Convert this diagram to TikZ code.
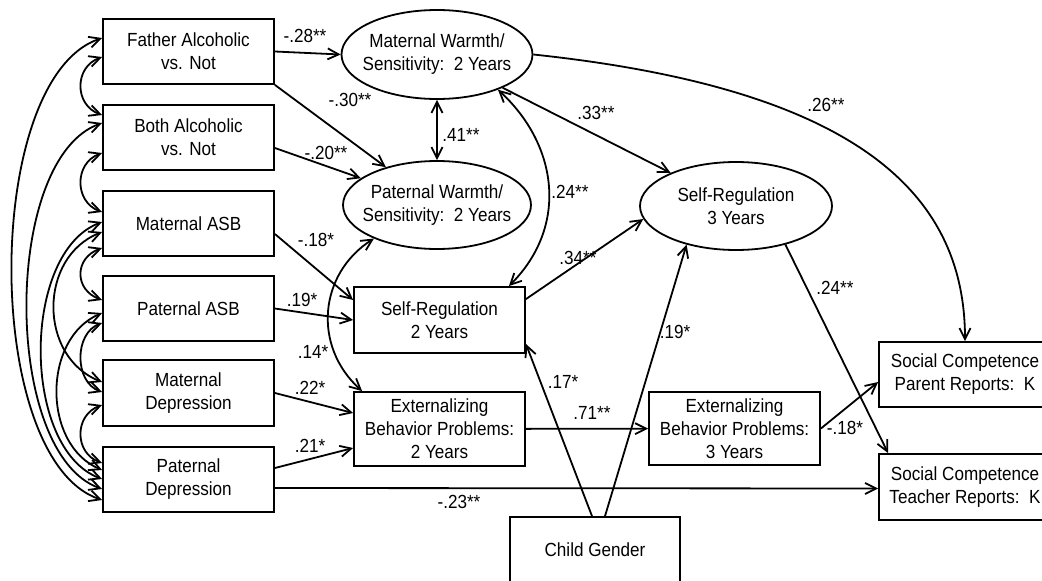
\documentclass[tikz,border=0pt]{standalone}
\usepackage{fontspec}
\setmainfont{Liberation Sans}[FakeStretch=0.9]
\usetikzlibrary{shapes.geometric,arrows.meta}

\begin{document}
\begin{tikzpicture}[x=1pt,y=-1pt,
    font=\fontsize{19}{23}\selectfont,
    line width=1.8pt,
    >={Straight Barb[length=11pt,width=11pt]},
    box/.style={draw,rectangle,align=center,inner sep=0pt,minimum width=171pt,minimum height=65pt},
    oval/.style={draw,ellipse,align=center,inner xsep=-12pt,inner ysep=0pt,minimum width=191pt,minimum height=89pt},
    coef/.style={inner sep=1pt}]
  \useasboundingbox (0,0) rectangle (1042,581);
  \clip (0,0) rectangle (1042,581);

  % exogenous variables
  \node[box] (fa) at (188.5,51.5) {Father Alcoholic\\vs. Not};
  \node[box] (ba) at (188.5,137.5) {Both Alcoholic\\vs. Not};
  \node[box] (ma) at (188.5,223.5) {Maternal ASB};
  \node[box] (pa) at (188.5,308.5) {Paternal ASB};
  \node[box,minimum height=66pt] (md) at (188.5,393) {Maternal\\Depression};
  \node[box] (pd) at (188.5,479.5) {Paternal\\Depression};

  % mediators and outcomes
  \node[oval] (mw) at (437,54.5) {Maternal Warmth/\\Sensitivity:\ \ 2 Years};
  \node[oval,minimum width=188pt,minimum height=88pt] (pw) at (437,205) {Paternal Warmth/\\Sensitivity:\ \ 2 Years};
  \node[oval,minimum width=192pt,minimum height=88pt] (sr3) at (736,206) {Self-Regulation\\3 Years};
  \node[box,minimum height=66pt] (sr2) at (439.5,320) {Self-Regulation\\2 Years};
  \node[box,minimum height=74pt] (ext2) at (439.5,429) {Externalizing\\Behavior Problems:\\2 Years};
  \node[box,minimum height=73pt] (ext3) at (734.5,428.5) {Externalizing\\Behavior Problems:\\3 Years};
  \node[box,minimum width=170pt,minimum height=66pt] (cg) at (595,550) {Child Gender};
  \node[box,minimum width=172pt] (scp) at (965,374.5) {Social Competence\\Parent Reports:\ \ K};
  \node[box,minimum width=172pt,minimum height=66pt] (sct) at (965,487) {Social Competence\\Teacher Reports:\ \ K};

  % paths
  \draw[->] (fa.east) -- (mw.west);
  \draw[->] (fa.south east) -- (pw);
  \draw[->] ([yshift=-10.5pt]ba.east) -- (pw);
  \draw[->] ([yshift=-10.5pt]ma.east) -- ([yshift=20pt]sr2.west);
  \draw[->] (pa.east) -- (sr2.west);
  \draw[->] (md.east) -- ([yshift=16pt]ext2.west);
  \draw[->] ([yshift=11.5pt]pd.east) -- ([yshift=-19pt]ext2.west);
  \draw[->] ([yshift=-8.5pt]pd.east) -- ([yshift=-1.5pt]sct.west);
  \draw[<->] (mw.south) -- (pw.north);
  \draw[<->] (mw.-30) .. controls +(60,55) and +(60,-60) .. ([xshift=-17pt]sr2.north east);
  \draw[<->] (pw.208) .. controls +(-55,35) and +(-50,-45) .. ([xshift=9pt]ext2.north west);
  \draw[->] (mw) -- (sr3);
  \draw[->] (mw.east) .. controls +(320,34) and +(0,-150) .. (scp.north);
  \draw[->] ([yshift=-13pt]sr2.north east) -- (sr3.188);
  \draw[->] (ext2) -- (ext3);
  \draw[->] ([xshift=-3pt]cg.north) -- ([yshift=10pt]sr2.south east);
  \draw[->] ([xshift=10pt]cg.north) -- (sr3.218);
  \draw[->] (sr3.-38) -- ([xshift=10pt]sct.north west);
  \draw[->] (ext3.east) -- ([yshift=-7.5pt]scp.west);

  % covariances among exogenous variables
  \draw[<->] ([yshift=-5.5pt]fa.west) .. controls +(-28,10) and +(-28,-10) .. ([yshift=22.5pt]ba.west);
  \draw[<->] ([yshift=-15.5pt]ba.west) .. controls +(-28,10) and +(-28,-10) .. ([yshift=11.5pt]ma.west);
  \draw[<->] ([yshift=-24.5pt]ma.west) .. controls +(-28,10) and +(-28,-10) .. ([yshift=8.5pt]pa.west);
  \draw[<->] ([yshift=-14.5pt]pa.west) .. controls +(-28,10) and +(-28,-10) .. ([yshift=1pt]md.west);
  \draw[<->] ([yshift=-12pt]md.west) .. controls +(-28,10) and +(-28,-10) .. ([yshift=16.5pt]pd.west);
  \draw[<->] ([yshift=13.5pt]fa.west) .. controls +(-120,40) and +(-120,-40) .. ([yshift=-20.5pt]pd.west);
  \draw[<->] ([yshift=14.5pt]ba.west) .. controls +(-100,35) and +(-100,-35) .. ([yshift=-9.5pt]pd.west);
  \draw[<->] ([yshift=1.5pt]ma.west) .. controls +(-81,30) and +(-81,-30) .. ([yshift=0.5pt]pd.west);
  \draw[<->] ([yshift=-4.5pt]pa.west) .. controls +(-60,25) and +(-60,-25) .. ([yshift=9.5pt]pd.west);
  \draw[<->] ([yshift=-8.5pt]ma.west) .. controls +(-64,25) and +(-64,-25) .. ([yshift=11pt]md.west);

  % coefficients
  \node[coef] (c-fa-mw) at (305,36) {-.28**};
  \node[coef] (c-fa-pw) at (350,100) {-.30**};
  \node[coef] (c-ba-pw) at (326,153) {-.20**};
  \node[coef] (c-ma-sr) at (316,240) {-.18*};
  \node[coef] (c-pa-sr) at (302,300) {.19*};
  \node[coef] (c-pw-ex) at (313,352) {.14*};
  \node[coef] (c-md-ex) at (310,388) {.22*};
  \node[coef] (c-pd-ex) at (310,446) {.21*};
  \node[coef] (c-pd-sc) at (459,502) {-.23**};
  \node[coef] (c-mw-pw) at (461,135) {.41**};
  \node[coef] (c-mw-sr) at (570,192) {.24**};
  \node[coef] (c-mw-s3) at (596,113) {.33**};
  \node[coef] (c-mw-sc) at (826,105) {.26**};
  \node[coef] (c-sr-s3) at (578,258) {.34**};
  \node[coef] (c-ex-ex) at (592,413) {.71**};
  \node[coef] (c-cg-sr) at (563,382) {.17*};
  \node[coef] (c-cg-s3) at (675,332) {.19*};
  \node[coef] (c-s3-sc) at (835,288) {.24**};
  \node[coef] (c-ex-sc) at (845,428) {-.18*};
\end{tikzpicture}
\end{document}
